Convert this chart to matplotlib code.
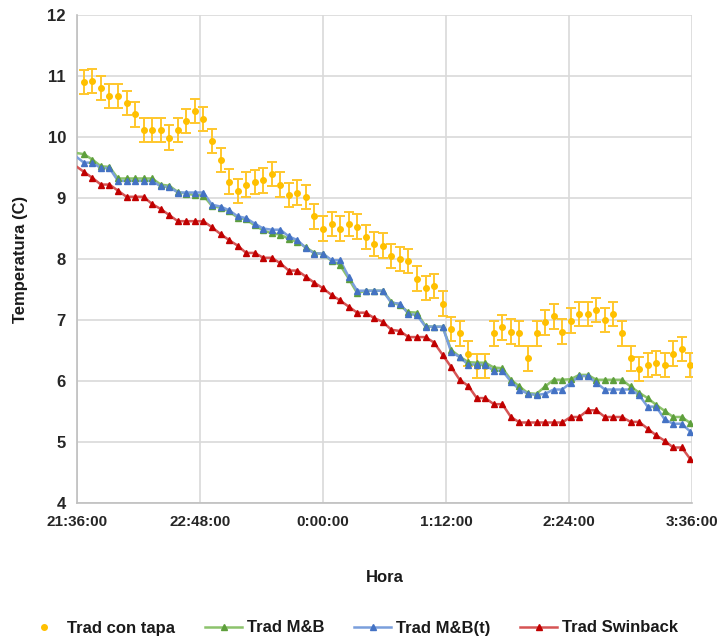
import numpy as np
import matplotlib
matplotlib.use("Agg")
import matplotlib.pyplot as plt
from matplotlib.lines import Line2D

plt.rcParams['font.family'] = ['Liberation Sans', 'DejaVu Sans']
plt.rcParams['font.weight'] = 'bold'

# minutes after 21:36 ; lines include a 21:35 point (clipped at the axis)
t_lines = np.arange(-1, 360, 5)
t_tapa = t_lines[1:]

tick_pos = [0, 72, 144, 216, 288, 360]
tick_labels = ["21:36:00", "22:48:00", "0:00:00", "1:12:00", "2:24:00", "3:36:00"]

tapa = [10.90, 10.92, 10.80, 10.67, 10.67, 10.56, 10.37, 10.11, 10.11, 10.11,
        9.99, 10.11, 10.26, 10.43, 10.30, 9.93, 9.62, 9.27, 9.11, 9.22,
        9.26, 9.29, 9.39, 9.22, 9.05, 9.09, 9.02, 8.70, 8.50, 8.57,
        8.50, 8.57, 8.53, 8.36, 8.25, 8.22, 8.05, 8.00, 7.97, 7.68,
        7.52, 7.56, 7.27, 6.85, 6.78, 6.45, 6.25, 6.25, 6.78, 6.88,
        6.81, 6.78, 6.37, 6.78, 6.96, 7.06, 6.81, 6.99, 7.10, 7.10,
        7.16, 7.00, 7.10, 6.78, 6.37, 6.20, 6.26, 6.30, 6.26, 6.45,
        6.52, 6.26]
tapa_err = 0.2

mb = [9.74, 9.72, 9.63, 9.52, 9.51, 9.32, 9.32, 9.32, 9.32, 9.32,
      9.22, 9.20, 9.10, 9.07, 9.05, 9.04, 8.87, 8.84, 8.78, 8.68,
      8.65, 8.55, 8.47, 8.42, 8.40, 8.33, 8.28, 8.19, 8.10, 8.08,
      7.97, 7.90, 7.68, 7.44, 7.48, 7.48, 7.48, 7.30, 7.24, 7.13,
      7.12, 6.90, 6.89, 6.89, 6.51, 6.40, 6.31, 6.30, 6.30, 6.22,
      6.21, 6.02, 5.91, 5.80, 5.79, 5.91, 6.02, 6.02, 6.03, 6.10,
      6.10, 6.02, 6.02, 6.02, 6.02, 5.91, 5.81, 5.72, 5.61, 5.51,
      5.41, 5.41, 5.31]

mbt = [9.69, 9.58, 9.58, 9.49, 9.49, 9.28, 9.28, 9.28, 9.28, 9.28,
       9.19, 9.18, 9.09, 9.09, 9.09, 9.09, 8.89, 8.86, 8.80, 8.70,
       8.67, 8.58, 8.50, 8.48, 8.48, 8.37, 8.31, 8.18, 8.09, 8.09,
       7.98, 7.98, 7.71, 7.48, 7.48, 7.48, 7.48, 7.28, 7.27, 7.10,
       7.08, 6.89, 6.89, 6.89, 6.48, 6.39, 6.27, 6.27, 6.26, 6.17,
       6.17, 5.99, 5.86, 5.79, 5.77, 5.79, 5.86, 5.86, 5.97, 6.08,
       6.08, 5.97, 5.86, 5.86, 5.86, 5.86, 5.77, 5.58, 5.58, 5.37,
       5.30, 5.30, 5.17]

swin = [9.53, 9.43, 9.33, 9.22, 9.22, 9.12, 9.02, 9.02, 9.02, 8.90,
        8.82, 8.72, 8.62, 8.62, 8.62, 8.62, 8.52, 8.41, 8.31, 8.22,
        8.10, 8.10, 8.02, 8.02, 7.93, 7.81, 7.81, 7.71, 7.61, 7.52,
        7.41, 7.32, 7.22, 7.12, 7.12, 7.03, 6.97, 6.84, 6.82, 6.72,
        6.72, 6.72, 6.63, 6.43, 6.23, 6.02, 5.92, 5.72, 5.72, 5.62,
        5.62, 5.41, 5.32, 5.32, 5.32, 5.32, 5.32, 5.32, 5.41, 5.41,
        5.52, 5.52, 5.41, 5.41, 5.41, 5.33, 5.33, 5.22, 5.11, 5.02,
        4.91, 4.91, 4.72]

fig = plt.figure(figsize=(7.18, 6.4), dpi=100)
ax = fig.add_axes([77/718, 1-503/640, (692-77)/718, (503-15)/640])

grid_c = '#D9D9D9'
ax.set_axisbelow(True)
ax.grid(True, color=grid_c, lw=1.2)

series = [
    (mb, '#8CC36C', '#5E9F3C', 'Trad M&B'),
    (mbt, '#7A9FDC', '#4472C4', 'Trad M&B(t)'),
    (swin, '#D65454', '#C00000', 'Trad Swinback'),
]
handles = []
ax.errorbar(t_tapa, tapa, yerr=tapa_err, fmt='o', ms=4, color='#FFC000',
            ecolor='#FFC72C', elinewidth=1.4, capsize=3.5, capthick=1.4, zorder=3)
handles.append(Line2D([], [], ls='none', marker='o', ms=4, color='#FFC000', label='Trad con tapa'))
for vals, lc, mc, lab in series:
    ax.plot(t_lines, vals, color=lc, lw=1.8, zorder=4)
    ax.plot(t_lines[1:], vals[1:], ls='none', marker='^', ms=5, color=mc, zorder=5)
    handles.append(Line2D([], [], color=lc, lw=1.8, marker='^', ms=4,
                          markerfacecolor=mc, markeredgecolor=mc, label=lab))

ax.set_xlim(0, 360)
ax.set_ylim(4, 12)
ax.set_xticks(tick_pos)
ax.set_xticklabels(tick_labels)
ax.set_yticks(range(4, 13))
ax.tick_params(axis='y', length=0, labelsize=12, colors='#262626', pad=8)
ax.tick_params(axis='x', length=0, labelsize=11, colors='#262626', pad=9)
for lbl in ax.get_xticklabels() + ax.get_yticklabels():
    lbl.set_fontweight('bold')
for s in ['top', 'right']:
    ax.spines[s].set_visible(False)
for s in ['left', 'bottom']:
    ax.spines[s].set_color('#BFBFBF')
    ax.spines[s].set_linewidth(1.2)

ax.set_ylabel('Temperatura (C)', fontsize=12, fontweight='bold', color='#1a1a1a', labelpad=14)
fig.text((77+692)/2/718, 1-578/640, 'Hora', ha='center', va='center',
         fontsize=12, fontweight='bold', color='#1a1a1a')

leg = fig.legend(handles=handles, loc='center', bbox_to_anchor=(0.49, 1-628/640), ncol=4,
                 frameon=False, fontsize=12, handlelength=2.2, columnspacing=1.8,
                 handletextpad=0.3)
for tx in leg.get_texts():
    tx.set_fontweight('bold')
    tx.set_color('#1a1a1a')

fig.savefig('out.png', dpi=100)
